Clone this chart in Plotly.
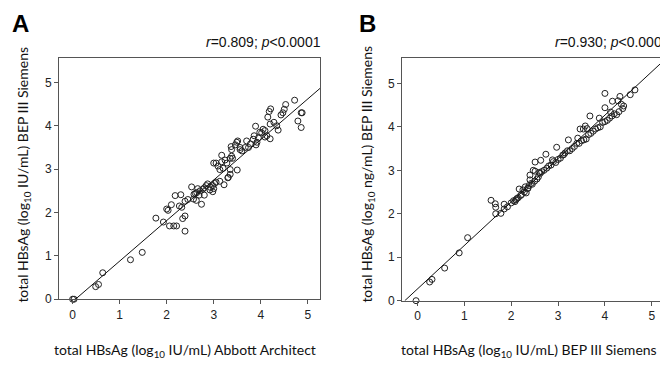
import plotly.graph_objects as go

# ---------------- data ----------------
a_x = [0.0, 0.03, 0.49, 0.55, 0.64, 1.23, 1.48, 1.77, 1.93, 2.0, 2.03, 2.1, 2.18, 2.30,
       2.27, 2.32, 2.06, 2.15, 2.21, 2.39, 2.34, 2.39, 2.39, 2.53, 2.57, 2.63, 2.61, 2.64,
       2.71, 2.69, 2.74, 2.80, 2.77, 2.80, 2.87, 2.93, 2.92, 2.98, 2.98, 3.02, 3.05, 3.0,
       3.22, 3.13, 3.3, 3.31, 3.35, 3.35, 3.5, 3.05, 3.0, 3.09, 3.13, 3.17, 3.17, 3.24,
       3.28, 3.35, 3.40, 3.38, 3.37, 3.38, 3.46, 3.51, 3.49, 3.56, 3.56, 3.70, 3.67, 3.74,
       3.86, 3.92, 3.90, 3.89, 3.84, 4.02, 4.09, 3.98, 4.13, 4.20, 4.09, 4.15, 4.18, 4.21,
       4.20, 4.34, 4.37, 4.43, 4.47, 4.50, 4.53, 4.72, 4.86, 4.88, 4.79, 4.86,
       2.45, 2.58, 2.66, 2.84, 3.2, 3.6, 3.78, 3.95, 4.05, 4.28]
a_y = [0.0, 0.0, 0.29, 0.34, 0.61, 0.91, 1.08, 1.87, 1.78, 2.08, 2.05, 2.18, 2.39, 2.41,
       2.15, 2.12, 1.69, 1.69, 1.69, 1.57, 1.86, 1.92, 2.26, 2.59, 2.31, 2.28, 2.44, 2.46,
       2.50, 2.40, 2.19, 2.40, 2.54, 2.57, 2.66, 2.58, 2.52, 2.48, 2.62, 2.67, 2.70, 2.55,
       2.64, 2.72, 2.80, 2.81, 2.88, 2.99, 2.98, 3.14, 3.14, 3.07, 2.99, 3.32, 3.17, 3.21,
       3.14, 3.25, 3.25, 3.30, 3.52, 3.45, 3.56, 3.65, 3.62, 3.50, 3.45, 3.65, 3.50, 3.50,
       3.77, 3.62, 3.56, 3.99, 3.69, 3.84, 3.89, 3.85, 3.77, 3.70, 3.74, 4.20, 4.33, 4.39,
       4.04, 4.00, 3.90, 4.25, 4.30, 4.38, 4.49, 4.59, 4.30, 4.30, 4.11, 3.96,
       2.30, 2.42, 2.55, 2.62, 3.02, 3.42, 3.58, 3.72, 3.92, 4.08]
a_fit_x = [0.06, 5.3]
a_fit_y = [0.0, 4.9]

b_x = [-0.03, 0.26, 0.31, 0.58, 0.89, 1.07, 1.57, 1.66, 1.67, 1.67, 1.78, 1.85, 1.85, 1.92,
       2.0, 2.05, 2.08, 2.1, 2.12, 2.15, 2.17, 2.2, 2.25, 2.28, 2.3, 2.32, 2.35, 2.38, 2.40,
       2.40, 2.43, 2.45, 2.47, 2.5, 2.51, 2.51, 2.55, 2.58, 2.6, 2.63, 2.65, 2.7, 2.74, 2.76,
       2.8, 2.85, 2.9, 2.95, 2.97, 3.0, 3.05, 3.1, 3.15, 3.2, 3.22, 3.25, 3.3, 3.35, 3.4,
       3.47, 3.45, 3.5, 3.54, 3.55, 3.58, 3.6, 3.65, 3.68, 3.7, 3.75, 3.8, 3.85, 3.9, 3.95,
       4.0, 4.0, 4.0, 4.05, 4.1, 4.15, 4.16, 4.2, 4.25, 4.3, 4.32, 4.35, 4.38, 4.4, 4.54, 4.64,
       2.22, 2.36, 2.62, 2.88, 3.12, 3.42, 3.62, 3.88, 4.12, 4.28]
b_y = [0.0, 0.43, 0.49, 0.75, 1.10, 1.45, 2.31, 2.23, 2.15, 2.0, 2.01, 2.22, 2.11, 2.16,
       2.25, 2.3, 2.28, 2.32, 2.35, 2.37, 2.57, 2.42, 2.55, 2.5, 2.62, 2.48, 2.58, 2.65, 2.89,
       2.78, 2.70, 2.68, 3.0, 2.75, 3.19, 2.98, 2.8, 2.85, 2.95, 3.23, 2.97, 3.0, 3.37, 3.05,
       3.1, 3.12, 3.2, 3.18, 3.53, 3.25, 3.28, 3.35, 3.4, 3.45, 3.70, 3.45, 3.5, 3.55, 3.62,
       3.95, 3.62, 3.68, 3.95, 3.7, 4.02, 3.72, 3.82, 4.25, 3.85, 3.9, 3.95, 3.98, 4.0, 4.1,
       4.77, 4.44, 4.12, 4.15, 4.2, 4.25, 4.59, 4.3, 4.28, 4.35, 4.70, 4.52, 4.42, 4.48, 4.74, 4.85,
       2.44, 2.59, 2.93, 3.24, 3.36, 3.74, 3.96, 4.20, 4.34, 4.60]
b_fit_x = [-0.27, 5.3]
b_fit_y = [0.0, 5.57]

tick_vals = [0, 1, 2, 3, 4, 5]
tick_text = ["0", "1", "2", "3", "4", "5"]

# ---------------- figure ----------------
W, H = 660, 369
fig = go.Figure()

marker = dict(symbol="circle-open", size=6, color="#222", line=dict(width=1, color="#222"))

fig.add_trace(go.Scatter(x=a_x, y=a_y, mode="markers", marker=marker,
                         xaxis="x", yaxis="y", cliponaxis=False, showlegend=False))
fig.add_trace(go.Scatter(x=a_fit_x, y=a_fit_y, mode="lines", line=dict(color="#111", width=1),
                         xaxis="x", yaxis="y", showlegend=False))
fig.add_trace(go.Scatter(x=b_x, y=b_y, mode="markers", marker=marker,
                         xaxis="x2", yaxis="y2", cliponaxis=False, showlegend=False))
fig.add_trace(go.Scatter(x=b_fit_x, y=b_fit_y, mode="lines", line=dict(color="#111", width=1),
                         xaxis="x2", yaxis="y2", showlegend=False))

def px(v):
    return v / W

def py(v):
    return 1 - v / H

axis_common = dict(showgrid=False, zeroline=False, showline=True, linecolor="#555", linewidth=1,
                   ticks="outside", ticklen=4, tickcolor="#555", tickwidth=1,
                   tickvals=tick_vals, ticktext=tick_text,
                   tickfont=dict(family="Liberation Sans, Arial", size=12, color="#222"))

fig.update_layout(
    width=W, height=H,
    margin=dict(l=0, r=0, t=0, b=0),
    paper_bgcolor="white", plot_bgcolor="white",
    xaxis=dict(domain=[px(59), px(320)], range=[-0.29, 5.26], anchor="y", mirror=True, **axis_common),
    yaxis=dict(domain=[py(305), py(59)], range=[0, 5.566], anchor="x", mirror=True, **axis_common),
    xaxis2=dict(domain=[px(402), 1.0], range=[-0.33, 5.175], anchor="y2", mirror=True, **axis_common),
    yaxis2=dict(domain=[py(306.5), py(59)], range=[0, 5.587], anchor="x2", mirror=False, **axis_common),
)

title_font = dict(family="Lato, Open Sans", size=14, color="#111")
ann = []
ann.append(dict(text="<b>A</b>", x=px(20), y=py(24), font=dict(family="Liberation Sans, Arial", size=24, color="#000")))
ann.append(dict(text="<b>B</b>", x=px(367), y=py(24), font=dict(family="Liberation Sans, Arial", size=24, color="#000")))
ann.append(dict(text="<i>r</i>=0.809; <i>p</i><0.0001", x=px(323), y=py(43), xanchor="right",
                font=dict(family="Liberation Sans, Arial", size=14, color="#111")))
ann.append(dict(text="<i>r</i>=0.930; <i>p</i><0.0001", x=px(553), y=py(43), xanchor="left",
                font=dict(family="Liberation Sans, Arial", size=14, color="#111")))
ann.append(dict(text="total HBsAg (log<sub>10</sub> IU/mL) Abbott Architect", x=px(185), y=py(357),
                font=title_font))
ann.append(dict(text="total HBsAg (log<sub>10</sub> IU/mL) BEP III Siemens", x=px(529), y=py(357),
                font=title_font))
ann.append(dict(text="total HBsAg (log<sub>10</sub> IU/mL) BEP III Siemens", x=px(24), y=py(178),
                textangle=-90, font=title_font))
ann.append(dict(text="total HBsAg (log<sub>10</sub> ng/mL) BEP III Siemens", x=px(368), y=py(178),
                textangle=-90, font=title_font))
for a in ann:
    a.setdefault("xanchor", "center")
    a.update(xref="paper", yref="paper", showarrow=False, yanchor="middle")
fig.update_layout(annotations=ann)

fig.write_html("out.html", config={"displayModeBar": False},
               post_script="document.body.style.margin='0px';document.body.style.overflow='hidden';")
